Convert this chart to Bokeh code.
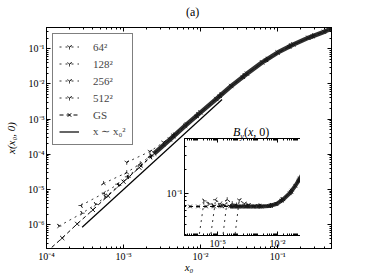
from bokeh.plotting import figure
from bokeh.models import Range1d, FixedTicker, CustomJSTickFormatter, LogAxis, Legend, LegendItem, Div
from bokeh.layouts import column
from bokeh.embed import file_html
from bokeh.resources import INLINE

# ---------------- data ----------------
gs_x0 = [1.0e-4, 1.6e-4, 2.5e-4, 4.0e-4, 6.3e-4, 1.0e-3, 1.6e-3, 2.5e-3, 4.0e-3, 6.3e-3, 1.0e-2,
         1.6e-2, 2.5e-2, 4.0e-2, 6.3e-2, 0.1, 0.16, 0.25, 0.4, 0.5, 0.63, 0.8]
gs_x = [1.66e-7, 4.17e-7, 1.05e-6, 2.63e-6, 6.61e-6, 1.66e-5, 4.17e-5, 1.05e-4, 2.63e-4, 6.46e-4, 1.55e-3,
        3.72e-3, 8.71e-3, 1.95e-2, 4.07e-2, 7.76e-2, 0.132, 0.204, 0.302, 0.372, 0.447, 0.537]
gs_by = [0.068, 0.068, 0.068, 0.068, 0.068, 0.068, 0.068, 0.068, 0.068, 0.068, 0.068,
         0.069, 0.073, 0.084, 0.100, 0.125, 0.155, 0.190, 0.225, 0.260, 0.340, 0.470]

law_x0 = [2.9e-4, 1.9e-2]
law_x = [8.4e-7, 3.6e-3]

r64_x0 = [1.1e-3, 2.2e-3, 3.3e-3, 4.4e-3, 6.6e-3, 8.8e-3, 1.76e-2, 3.52e-2, 7.04e-2, 0.141, 0.282, 0.5]
r64_x = [5.9e-5, 1.2e-4, 2.19e-4, 3.5e-4, 7.3e-4, 1.2e-3, 4.5e-3, 1.58e-2, 4.73e-2, 0.115, 0.226, 0.372]
r64_by = [0.018, 0.082, 0.074, 0.071, 0.069, 0.069, 0.070, 0.081, 0.105, 0.145, 0.200, 0.260]

r128_x0 = [5.5e-4, 1.1e-3, 1.65e-3, 2.2e-3, 3.3e-3, 4.4e-3, 8.8e-3, 1.76e-2, 3.52e-2, 7.04e-2, 0.141, 0.282, 0.5]
r128_x = [1.48e-5, 3.02e-5, 5.4e-5, 8.8e-5, 1.86e-4, 3.2e-4, 1.2e-3, 4.5e-3, 1.58e-2, 4.73e-2, 0.115, 0.226, 0.372]
r128_by = [0.018, 0.083, 0.074, 0.071, 0.069, 0.069, 0.069, 0.070, 0.081, 0.105, 0.145, 0.200, 0.260]

r256_x0 = [2.8e-4, 5.6e-4, 8.4e-4, 1.12e-3, 1.68e-3, 2.24e-3, 4.48e-3, 8.96e-3, 1.79e-2, 3.58e-2, 7.17e-2, 0.143, 0.287, 0.5]
r256_x = [3.5e-6, 7.9e-6, 1.41e-5, 2.29e-5, 4.84e-5, 8.3e-5, 3.3e-4, 1.26e-3, 4.68e-3, 1.62e-2, 4.84e-2, 0.117, 0.229, 0.372]
r256_by = [0.018, 0.083, 0.074, 0.071, 0.069, 0.069, 0.069, 0.069, 0.070, 0.082, 0.106, 0.146, 0.200, 0.260]

r512_x0 = [1.45e-4, 2.9e-4, 4.35e-4, 5.8e-4, 8.7e-4, 1.16e-3, 2.32e-3, 4.64e-3, 9.28e-3, 1.86e-2, 3.71e-2, 7.42e-2, 0.148, 0.297, 0.5]
r512_x = [9.1e-7, 2.11e-6, 3.77e-6, 6.1e-6, 1.3e-5, 2.23e-5, 8.9e-5, 3.55e-4, 1.35e-3, 5.0e-3, 1.74e-2, 5.1e-2, 0.122, 0.234, 0.372]
r512_by = [0.018, 0.080, 0.073, 0.070, 0.069, 0.069, 0.069, 0.069, 0.069, 0.070, 0.083, 0.107, 0.148, 0.200, 0.260]

series_labels = ["64²", "128²", "256²", "512²"]
main_xticks = [1e-4, 1e-3, 1e-2, 1e-1]
main_yticks = [1e-6, 1e-5, 1e-4, 1e-3, 1e-2, 1e-1]
inset_xticks = [1e-5, 1e-2]
inset_yticks = [0.1]

# ---------------- style ----------------
FONT = "Liberation Serif"
TICK_JS = """
const e = Math.round(Math.log10(tick));
const m = {"-":"⁻","0":"⁰","1":"¹","2":"²","3":"³","4":"⁴","5":"⁵","6":"⁶","7":"⁷","8":"⁸","9":"⁹"};
return "10" + String(e).split("").map(c => m[c]).join("");
"""


def minors(lo_exp, hi_exp, lo, hi):
    out = []
    for d in range(lo_exp, hi_exp + 1):
        for k in range(1, 10):
            v = k * 10.0 ** d
            if lo <= v <= hi:
                out.append(v)
    return out


def style_axis(ax, ticks, minor, labels=True):
    ax.ticker = FixedTicker(ticks=ticks, minor_ticks=minor)
    ax.major_tick_in = 4
    ax.major_tick_out = 0
    ax.minor_tick_in = 2
    ax.minor_tick_out = 0
    ax.axis_line_color = "black"
    ax.major_tick_line_color = "black"
    ax.minor_tick_line_color = "black"
    ax.major_label_text_font = FONT
    ax.major_label_text_font_size = "10px"
    ax.major_label_text_color = "black"
    ax.major_label_standoff = 2
    ax.axis_label_text_font = FONT
    ax.axis_label_text_font_size = "11px"
    ax.axis_label_text_font_style = "italic"
    ax.axis_label_text_color = "black"
    if labels:
        ax.formatter = CustomJSTickFormatter(code=TICK_JS)
    else:
        ax.formatter = CustomJSTickFormatter(code="return '';")
        ax.major_label_text_font_size = "1px"
        ax.major_label_standoff = 0


# ---------------- main plot ----------------
XR = (1e-4, 0.5)
YR = (2.1e-7, 0.4)
main = figure(frame_width=285, frame_height=221, x_axis_type="log", y_axis_type="log",
              x_range=Range1d(*XR), y_range=Range1d(*YR),
              output_backend="svg", toolbar_location=None,
              min_border_left=46, min_border_right=37, min_border_top=27, min_border_bottom=28,
              background_fill_color="white", border_fill_color="white")
main.grid.visible = False
main.outline_line_color = "black"

xmin = minors(-4, -1, *XR)
ymin = minors(-7, -1, *YR)
style_axis(main.below[0], main_xticks, xmin)
style_axis(main.left[0], main_yticks, ymin)
main.below[0].axis_label = "x₀"
main.below[0].axis_label_standoff = -4
main.left[0].axis_label = "x(x₀, 0)"
main.left[0].axis_label_standoff = 8
top_ax = LogAxis()
right_ax = LogAxis()
style_axis(top_ax, main_xticks, xmin, labels=False)
style_axis(right_ax, main_yticks, ymin, labels=False)
main.add_layout(top_ax, "above")
main.add_layout(right_ax, "right")

res_x0 = [r64_x0, r128_x0, r256_x0, r512_x0]
res_x = [r64_x, r128_x, r256_x, r512_x]
res_by = [r64_by, r128_by, r256_by, r512_by]
angles = [0.0, 3.14159, -1.5708, 1.5708]

items = []
for lab, xs, ys, ang in zip(series_labels, res_x0, res_x, angles):
    ln = main.line(xs, ys, line_color="black", line_width=0.8, line_dash="dotted")
    mk = main.scatter(xs, ys, marker="y", angle=ang, size=5, line_color="black", line_width=0.7, fill_color=None)
    items.append(LegendItem(label=lab, renderers=[ln, mk]))

gs_line = main.line(gs_x0, gs_x, line_color="black", line_width=1, line_dash="4 3")
gs_mk = main.scatter(gs_x0, gs_x, marker="x", size=6, line_color="black", line_width=0.9)
band_x0 = [a for a in gs_x0 if a >= 2.5e-3]
band_x = [b for a, b in zip(gs_x0, gs_x) if a >= 2.5e-3]
main.line(band_x0, band_x, line_color="#1a1a1a", line_width=4.5, line_alpha=0.9)
items.append(LegendItem(label="GS", renderers=[gs_line, gs_mk]))

law = main.line(law_x0, law_x, line_color="black", line_width=1.2)
items.append(LegendItem(label="x ∼ x₀²", renderers=[law]))

legend = Legend(items=items, location="top_left", margin=6, padding=6, spacing=4,
                label_height=13, glyph_height=13, glyph_width=20, label_width=33,
                label_standoff=14, border_line_color="black", border_line_width=1,
                label_text_font=FONT, label_text_font_size="11px", background_fill_alpha=1)
main.add_layout(legend)

# ---------------- inset ----------------
IXR = (2.2e-7, 0.56)
IYR = (0.029, 0.5)
inset = figure(frame_width=128, frame_height=97, x_axis_type="log", y_axis_type="log",
               x_range=Range1d(*IXR), y_range=Range1d(*IYR),
               output_backend="svg", toolbar_location=None,
               min_border_left=30, min_border_right=4, min_border_top=6, min_border_bottom=16,
               background_fill_color="white", border_fill_alpha=0)
inset.styles = {"position": "absolute", "left": "138px", "top": "132px"}
inset.grid.visible = False
inset.outline_line_color = "black"
ixmin = [v for v in minors(-7, -1, *IXR) if v not in inset_xticks]
iymin = minors(-2, -1, *IYR)
style_axis(inset.below[0], inset_xticks, ixmin)
style_axis(inset.left[0], inset_yticks, iymin)
itop = LogAxis()
iright = LogAxis()
style_axis(itop, inset_xticks, ixmin, labels=False)
style_axis(iright, inset_yticks, iymin, labels=False)
inset.add_layout(itop, "above")
inset.add_layout(iright, "right")

for xs, bs, ang in zip(res_x, res_by, angles):
    inset.line(xs, bs, line_color="black", line_width=0.8, line_dash="dotted")
    inset.scatter(xs, bs, marker="y", angle=ang, size=5, line_color="black", line_width=0.7, fill_color=None)
inset.line(gs_x, gs_by, line_color="black", line_width=1, line_dash="4 3")
inset.scatter(gs_x, gs_by, marker="x", size=5, line_color="black", line_width=0.9)
iband_x = [a for a in gs_x if a >= 3e-5]
iband_b = [b for a, b in zip(gs_x, gs_by) if a >= 3e-5]
inset.line(iband_x, iband_b, line_color="#1a1a1a", line_width=4, line_alpha=0.9)

text_style = {"font-family": FONT, "font-size": "12px", "line-height": "14px",
              "white-space": "nowrap", "color": "black", "position": "absolute"}
inset_title = Div(text="<i>B</i><sub style='font-size:8px'><i>y</i></sub>(<i>x</i>, 0)",
                  width=60, height=16, styles=dict(text_style, left="228px", top="120px"))
panel_title = Div(text="(a)", width=24, height=16, styles=dict(text_style, left="181px", top="0px"))

layout = column(main, inset, inset_title, panel_title)
open("out.html", "w").write(file_html(layout, INLINE))
